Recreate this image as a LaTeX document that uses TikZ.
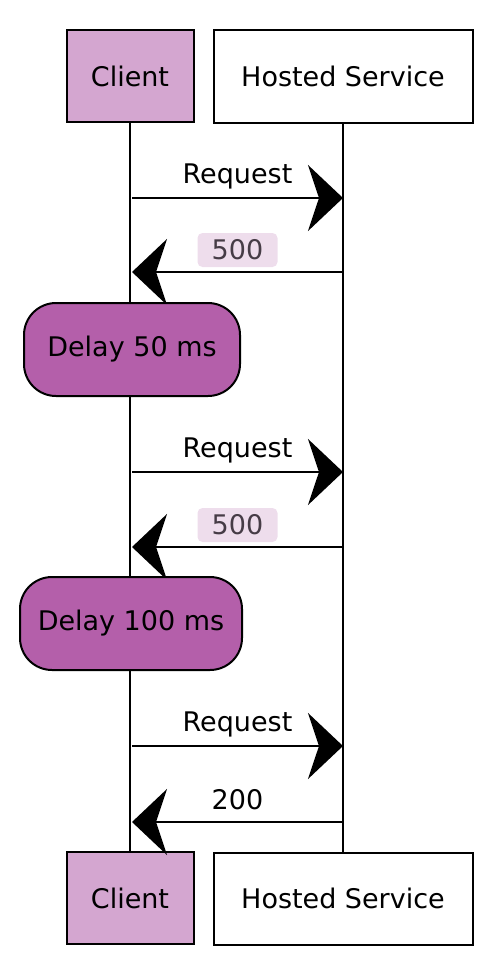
\documentclass[tikz,border=0pt]{standalone}
\usepackage{fontspec}
\setmainfont{DejaVu Sans}
\usetikzlibrary{positioning, arrows.meta}
\definecolor{clientpink}{HTML}{D4A6D0}
\definecolor{delaypurple}{HTML}{B45FAA}
\definecolor{codebg}{HTML}{EEDDEC}
\definecolor{codetext}{HTML}{463C46}

\begin{document}
\begin{tikzpicture}[x=1pt, y=-1pt, >={Stealth[length=35pt, width=66pt, inset=11pt]},
        actor/.style={draw, line width=2pt, minimum height=92pt, font=\fontsize{27}{32}\selectfont},
        delaybox/.style={draw, fill=delaypurple, rounded corners=32pt, line width=2pt, minimum height=93pt, font=\fontsize{27}{32}\selectfont},
        lifeline/.style={line width=1.5pt},
        msg/.style={->, line width=2.2pt},
        msglabel/.style={font=\fontsize{27}{31}\selectfont, yshift=22pt},
        codelabel/.style={msglabel, fill=codebg, text=codetext, rounded corners=5pt, minimum width=80pt, minimum height=34pt, inner sep=2pt}]
        \useasboundingbox (0,0) rectangle (502,966);

        % participants
        \node[actor, fill=clientpink, minimum width=127pt] (clientTop) at (130,76) {Client};
        \node[actor, fill=white, minimum width=259pt] (hostTop) at (343,76.5) {Hosted Service};
        \node[actor, fill=clientpink, minimum width=127pt] (clientBot) at (130,898) {Client};
        \node[actor, fill=white, minimum width=259pt] (hostBot) at (343,898.5) {Hosted Service};

        % lifelines
        \draw[lifeline] (clientTop) -- (clientBot);
        \draw[lifeline] (hostTop) -- (hostBot);

        % message ends
        \coordinate (c1) at (132,198); \coordinate (h1) at (343,198);
        \coordinate (c2) at (132,272); \coordinate (h2) at (343,272);
        \coordinate (c3) at (132,472); \coordinate (h3) at (343,472);
        \coordinate (c4) at (132,547); \coordinate (h4) at (343,547);
        \coordinate (c5) at (132,746); \coordinate (h5) at (343,746);
        \coordinate (c6) at (132,822); \coordinate (h6) at (343,822);

        % first try
        \draw[msg] (c1) -- node[msglabel] (req1) {Request} (h1);
        \draw[msg] (h2) -- node[codelabel] (resp1) {500} (c2);
        \node[delaybox, minimum width=216pt] (delay1) at (132,349.5) {Delay 50 ms};

        % second try
        \draw[msg] (c3) -- node[msglabel] (req2) {Request} (h3);
        \draw[msg] (h4) -- node[codelabel] (resp2) {500} (c4);
        \node[delaybox, minimum width=222pt] (delay2) at (131,623.5) {Delay 100 ms};

        % third try
        \draw[msg] (c5) -- node[msglabel] (req3) {Request} (h5);
        \draw[msg] (h6) -- node[msglabel] (resp3) {200} (c6);

    \end{tikzpicture}
\end{document}
